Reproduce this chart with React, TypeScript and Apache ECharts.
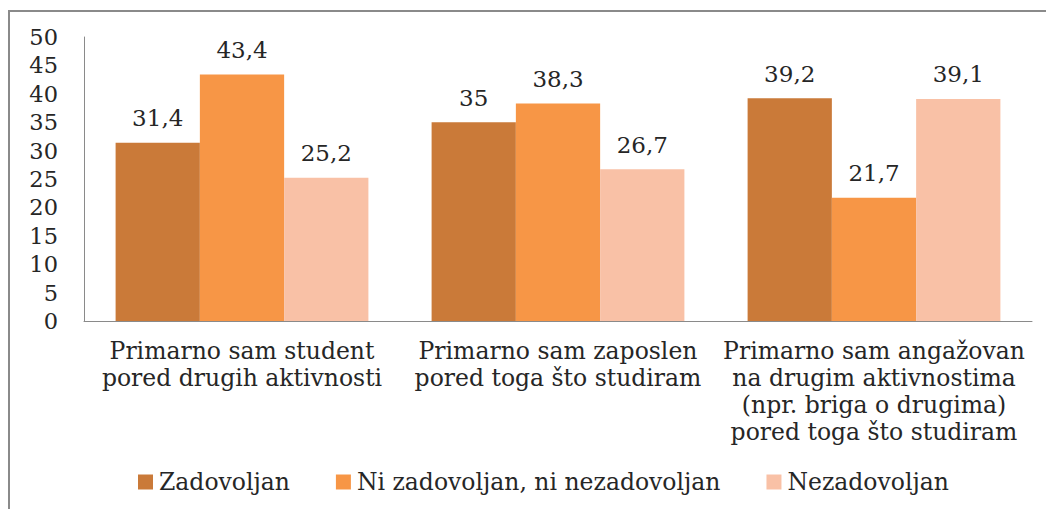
import React, { useEffect, useRef } from "react";
import * as echarts from "echarts";

const categories = [
  "Primarno sam student\npored drugih aktivnosti",
  "Primarno sam zaposlen\npored toga što studiram",
  "Primarno sam angažovan\nna drugim aktivnostima\n(npr. briga o drugima)\npored toga što studiram",
];
const seriesNames = ["Zadovoljan", "Ni zadovoljan, ni nezadovoljan", "Nezadovoljan"];
const zadovoljan = [31.4, 35, 39.2];
const niNi = [43.4, 38.3, 21.7];
const nezadovoljan = [25.2, 26.7, 39.1];
const colors = ["#CA7A39", "#F79646", "#F9C1A6"];

const FONT = "DejaVu Serif";
const TXT = "#262626";

export default function App() {
  const ref = useRef<HTMLDivElement>(null);
  useEffect(() => {
    if (!ref.current) return;
    const chart = echarts.init(ref.current, null, { renderer: "svg" });
    const values = [zadovoljan, niNi, nezadovoljan];
    chart.setOption({
      animation: false,
      graphic: [
        {
          type: "rect",
          shape: { x: 9, y: 11, width: 1200, height: 700 },
          style: { fill: "none", stroke: "#8a8a8a", lineWidth: 2 },
          silent: true,
        },
      ],
      grid: { left: 84, right: 14, top: 37, bottom: 188, containLabel: false },
      legend: {
        left: 133,
        top: 465,
        itemWidth: 15,
        itemHeight: 15,
        itemGap: 46,
        icon: "rect",
        textStyle: { fontFamily: FONT, fontSize: 23.5, color: TXT, padding: [0, 0, 0, 1] },
        data: seriesNames,
      },
      xAxis: {
        type: "category",
        data: categories,
        axisLine: { lineStyle: { color: "#8a8a8a", width: 1 } },
        axisTick: { show: false },
        axisLabel: {
          fontFamily: FONT,
          fontSize: 23.5,
          color: TXT,
          lineHeight: 27,
          margin: 16,
          interval: 0,
          align: "center",
        },
      },
      yAxis: {
        type: "value",
        min: 0,
        max: 50,
        interval: 5,
        axisLine: { show: true, lineStyle: { color: "#8a8a8a", width: 1 } },
        axisTick: { show: false },
        splitLine: { show: false },
        axisLabel: { fontFamily: FONT, fontSize: 22.5, color: TXT, margin: 26 },
      },
      series: seriesNames.map((name, i) => ({
        name,
        type: "bar",
        data: values[i],
        barGap: "0%",
        barCategoryGap: "20%",
        itemStyle: { color: colors[i] },
        label: {
          show: true,
          position: "top",
          distance: 13,
          fontFamily: FONT,
          fontSize: 23,
          color: TXT,
          formatter: (p: any) => String(p.value).replace(".", ","),
        },
      })),
    });
    return () => chart.dispose();
  }, []);
  return (
    <div
      ref={ref}
      style={{ position: "fixed", left: 0, top: 0, width: 1046, height: 509, background: "#fff" }}
    />
  );
}
